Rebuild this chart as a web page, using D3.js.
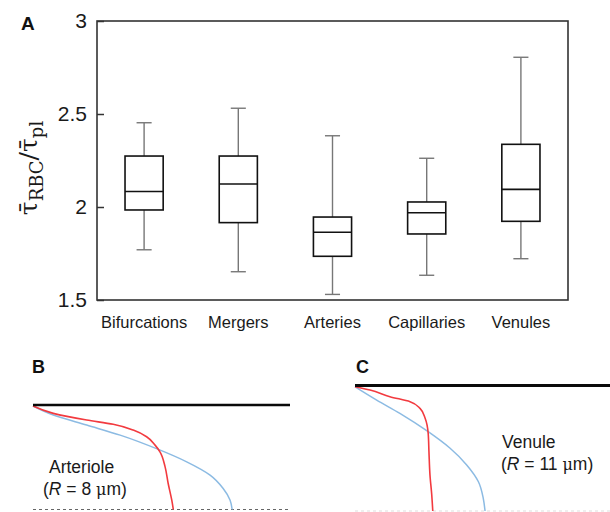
<!DOCTYPE html>
<html>
<head>
<meta charset="utf-8">
<script src="https://cdn.jsdelivr.net/npm/d3@7"></script>
<style>
  body { margin: 0; background: #fff; }
  svg { display: block; font-family: "Liberation Sans", Arial, sans-serif; }
</style>
</head>
<body>
<svg id="chart" width="610" height="512"></svg>
<script>
// PANEL A DATA ----------------------------------------------------------------
const categories = ["Bifurcations", "Mergers", "Arteries", "Capillaries", "Venules"];
const whiskerLow  = [1.77, 1.652, 1.53, 1.633, 1.722];
const q1          = [1.984, 1.916, 1.735, 1.855, 1.923];
const medians     = [2.083, 2.124, 1.864, 1.969, 2.095];
const q3          = [2.274, 2.274, 1.946, 2.027, 2.337];
const whiskerHigh = [2.453, 2.531, 2.383, 2.262, 2.805];
const yTicks = [1.5, 2, 2.5, 3];

// PANEL B / C PROFILES (x: arbitrary units 0-100, depth from wall 0-100) -------
const arterioleRBC = [[0, 1], [7.9, 8], [20.9, 14.4], [31.2, 18.5], [39, 24], [44.2, 30.4], [47.5, 38.4], [49.4, 44.8], [51.4, 59.2], [52.6, 75.1], [54, 91.1], [54.6, 100]];
const arteriolePl  = [[0, 1], [7.9, 9.6], [20.9, 19.2], [33.9, 28.8], [48.8, 42.5], [59.8, 54.4], [68.9, 67.1], [74, 79.9], [76.7, 91.1], [77.5, 100]];
const venuleRBC    = [[0, 1], [5.9, 3.6], [13.7, 8.9], [21.6, 12.9], [25.5, 18.2], [27.5, 26.1], [28.7, 38.1], [29, 52.7], [29.4, 71.3], [30.1, 87.3], [30.5, 100]];
const venulePl     = [[0, 1], [8.5, 11.6], [17.6, 22.2], [28.7, 36.8], [37.3, 50], [43.8, 63.3], [48.4, 76.7], [50.3, 89.9], [51, 100]];

const svg = d3.select("#chart");

//PANEL A ---------------------------------------------------------------------
const frame = { left: 97, right: 568, top: 21, bottom: 300 };

const x = d3.scaleBand()
    .domain(categories)
    .range([frame.left, frame.right])
    .padding(0);

const y = d3.scaleLinear()
    .domain([1.5, 3])
    .range([frame.bottom, frame.top]);

svg.append("text")
    .attr("x", 21).attr("y", 30)
    .attr("font-size", 19).attr("font-weight", "bold")
    .attr("fill", "#111")
    .text("A");

// y axis, ticks pointing inward
const yAxis = svg.append("g")
    .attr("transform", `translate(${frame.left},0)`)
    .call(d3.axisLeft(y).tickValues(yTicks).tickFormat(d3.format("")).tickSizeInner(-7).tickSizeOuter(0).tickPadding(10));
yAxis.select(".domain").remove();
yAxis.selectAll("line").attr("stroke", "#333").attr("stroke-width", 1.5);
yAxis.selectAll("text")
    .attr("font-size", 21)
    .attr("font-family", "Liberation Sans, Arial, sans-serif")
    .attr("fill", "#1a1a1a");

// x labels
const xAxis = svg.append("g")
    .attr("transform", `translate(0,${frame.bottom})`)
    .call(d3.axisBottom(x).tickSize(0).tickPadding(16));
xAxis.select(".domain").remove();
xAxis.selectAll("text")
    .attr("font-size", 16.5)
    .attr("font-family", "Liberation Sans, Arial, sans-serif")
    .attr("fill", "#1a1a1a");

// frame
svg.append("rect")
    .attr("x", frame.left).attr("y", frame.top)
    .attr("width", frame.right - frame.left)
    .attr("height", frame.bottom - frame.top)
    .attr("fill", "none")
    .attr("stroke", "#333")
    .attr("stroke-width", 1.6);

// y label
const yLabel = svg.append("text")
    .attr("transform", "translate(37,168) rotate(-90)")
    .attr("text-anchor", "middle")
    .attr("font-family", "DejaVu Serif, serif")
    .attr("font-size", 25)
    .attr("fill", "#1a1a1a");
yLabel.append("tspan").text("τ\u0304");
yLabel.append("tspan").attr("dy", 6).attr("font-size", 18).text("RBC");
yLabel.append("tspan").attr("dy", -6).text("/τ\u0304");
yLabel.append("tspan").attr("dy", 6).attr("font-size", 18).text("pl");

// boxes
const boxW = x.bandwidth() * 0.405;
const capW = x.bandwidth() * 0.16;
const boxes = svg.append("g").selectAll("g")
    .data(categories)
    .join("g")
    .attr("transform", d => `translate(${x(d) + x.bandwidth() / 2},0)`);

boxes.append("line")
    .attr("y1", (d, i) => y(whiskerHigh[i])).attr("y2", (d, i) => y(q3[i]))
    .attr("stroke", "#777").attr("stroke-width", 1.4);
boxes.append("line")
    .attr("y1", (d, i) => y(q1[i])).attr("y2", (d, i) => y(whiskerLow[i]))
    .attr("stroke", "#777").attr("stroke-width", 1.4);
boxes.append("line")
    .attr("x1", -capW / 2).attr("x2", capW / 2)
    .attr("y1", (d, i) => y(whiskerHigh[i])).attr("y2", (d, i) => y(whiskerHigh[i]))
    .attr("stroke", "#777").attr("stroke-width", 1.4);
boxes.append("line")
    .attr("x1", -capW / 2).attr("x2", capW / 2)
    .attr("y1", (d, i) => y(whiskerLow[i])).attr("y2", (d, i) => y(whiskerLow[i]))
    .attr("stroke", "#777").attr("stroke-width", 1.4);
boxes.append("rect")
    .attr("x", -boxW / 2).attr("width", boxW)
    .attr("y", (d, i) => y(q3[i]))
    .attr("height", (d, i) => y(q1[i]) - y(q3[i]))
    .attr("fill", "none").attr("stroke", "#111").attr("stroke-width", 1.6);
boxes.append("line")
    .attr("x1", -boxW / 2).attr("x2", boxW / 2)
    .attr("y1", (d, i) => y(medians[i])).attr("y2", (d, i) => y(medians[i]))
    .attr("stroke", "#111").attr("stroke-width", 1.6);

//PANELS B AND C --------------------------------------------------------------
const drawProfile = (opt) => {
    const px = d3.scaleLinear().domain([0, 100]).range(opt.xRange);
    const py = d3.scaleLinear().domain([0, 100]).range(opt.yRange);
    const g = svg.append("g");

    g.append("text")
        .attr("x", opt.labelPos[0]).attr("y", opt.labelPos[1])
        .attr("font-size", 18).attr("font-weight", "bold").attr("fill", "#111")
        .text(opt.label);

    g.append("line")
        .attr("x1", px(0)).attr("x2", opt.xRange[1])
        .attr("y1", py(100)).attr("y2", py(100))
        .attr("stroke", opt.dashColor).attr("stroke-width", 1)
        .attr("stroke-dasharray", "3,3");

    const line = d3.line()
        .x(d => px(d[0]))
        .y(d => py(d[1]))
        .curve(d3.curveMonotoneY);

    g.append("path").datum(opt.pl)
        .attr("d", line).attr("fill", "none")
        .attr("stroke", "#8cbbe3").attr("stroke-width", 1.5);
    g.append("path").datum(opt.rbc)
        .attr("d", line).attr("fill", "none")
        .attr("stroke", "#f23a3f").attr("stroke-width", 1.6);

    g.append("line")
        .attr("x1", px(0)).attr("x2", opt.xRange[1])
        .attr("y1", py(0)).attr("y2", py(0))
        .attr("stroke", "#0a0a0a").attr("stroke-width", opt.wallWidth);

    const t = g.append("g").attr("font-size", 17.5).attr("fill", "#1a1a1a");
    t.append("text").attr("x", opt.textPos[0]).attr("y", opt.textPos[1]).text(opt.name);
    const r = t.append("text").attr("x", opt.textPos2[0]).attr("y", opt.textPos2[1]);
    r.append("tspan").text("(");
    r.append("tspan").attr("font-style", "italic").text("R");
    r.append("tspan").text(` = ${opt.radius} `);
    r.append("tspan").attr("font-family", "DejaVu Serif, serif").attr("font-size", 16).text("μ");
    r.append("tspan").text("m)");
};

drawProfile({
    label: "B", labelPos: [32, 373],
    xRange: [33, 290], yRange: [405, 509.5],
    rbc: arterioleRBC, pl: arteriolePl,
    dashColor: "#666", wallWidth: 2.6,
    name: "Arteriole", textPos: [49, 473],
    textPos2: [43, 495], radius: 8
});

drawProfile({
    label: "C", labelPos: [356, 373],
    xRange: [355, 610], yRange: [385.5, 511],
    rbc: venuleRBC, pl: venulePl,
    dashColor: "#ddd", wallWidth: 3,
    name: "Venule", textPos: [502, 448],
    textPos2: [501, 470], radius: 11
});
</script>
</body>
</html>
